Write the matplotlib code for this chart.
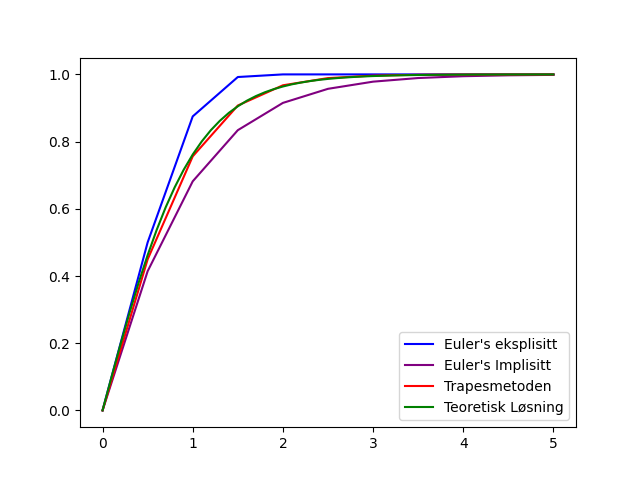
import numpy as np
import matplotlib
matplotlib.use("Agg")
import matplotlib.pyplot as plt

# steg h = 0.5
t_steg = [0.0, 0.5, 1.0, 1.5, 2.0, 2.5, 3.0, 3.5, 4.0, 4.5, 5.0]

euler_eksplisitt = [0.0, 0.5, 0.875, 0.9922, 1.0, 1.0, 1.0, 1.0, 1.0, 1.0, 1.0]
euler_implisitt = [0.0, 0.4142, 0.6818, 0.8340, 0.9152, 0.9571,
                   0.9784, 0.9892, 0.9946, 0.9973, 0.9986]
trapes = [0.0, 0.4495, 0.7561, 0.9074, 0.9676, 0.9890,
          0.9963, 0.9988, 0.9996, 0.9999, 1.0]

# teoretisk losning, tett grid
t_fin = [i / 10 for i in range(51)]
teoretisk = [0.0, 0.0997, 0.1974, 0.2913, 0.3799, 0.4621, 0.5370, 0.6044, 0.6640, 0.7163,
             0.7616, 0.8005, 0.8337, 0.8617, 0.8854, 0.9051, 0.9217, 0.9354, 0.9468, 0.9562,
             0.9640, 0.9705, 0.9757, 0.9801, 0.9837, 0.9866, 0.9890, 0.9910, 0.9926, 0.9940,
             0.9951, 0.9959, 0.9967, 0.9973, 0.9978, 0.9982, 0.9985, 0.9988, 0.9990, 0.9992,
             0.9993, 0.9995, 0.9996, 0.9996, 0.9997, 0.9998, 0.9998, 0.9998, 0.9999, 0.9999,
             0.9999]

plt.figure(figsize=(6.4, 4.8), dpi=100)
plt.plot(t_steg, euler_eksplisitt, color="blue", label="Euler's eksplisitt")
plt.plot(t_steg, euler_implisitt, color="purple", label="Euler's Implisitt")
plt.plot(t_steg, trapes, color="red", label="Trapesmetoden")
plt.plot(t_fin, teoretisk, color="green", label="Teoretisk Løsning")
plt.legend(loc="lower right")
plt.savefig("out.png")
